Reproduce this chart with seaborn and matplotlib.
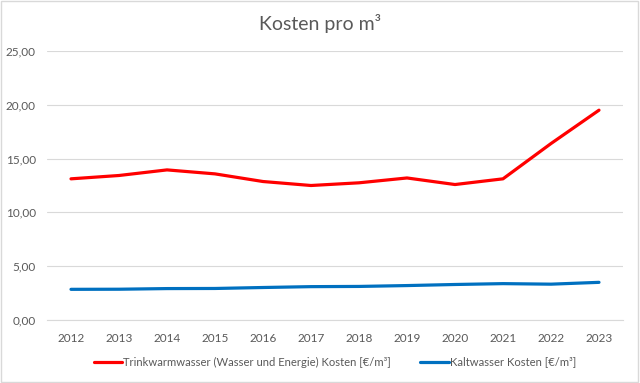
import numpy as np
import pandas as pd
import matplotlib
matplotlib.use("Agg")
import matplotlib.pyplot as plt
import seaborn as sns

sns.set_style("white")
plt.rcParams["font.family"] = ["Lato", "DejaVu Sans"]

# data
years = [2012, 2013, 2014, 2015, 2016, 2017, 2018, 2019, 2020, 2021, 2022, 2023]
warm = [13.12, 13.43, 13.95, 13.58, 12.87, 12.50, 12.75, 13.20, 12.59, 13.12, 16.40, 19.50]
kalt = [2.85, 2.86, 2.92, 2.93, 3.02, 3.10, 3.12, 3.20, 3.30, 3.38, 3.33, 3.50]
labels = ["Trinkwarmwasser (Wasser und Energie) Kosten [€/m³]",
          "Kaltwasser Kosten [€/m³]"]
colors = ["#FF0000", "#0070C0"]

df = pd.DataFrame({
    "Jahr": years * 2,
    "Kosten": warm + kalt,
    "Serie": [labels[0]] * len(years) + [labels[1]] * len(years),
})

fig = plt.figure(figsize=(6.4, 3.83), dpi=100)
ax = fig.add_axes([47 / 640, 1 - 320 / 383, 576 / 640, 269 / 383])

sns.lineplot(data=df, x="Jahr", y="Kosten", hue="Serie", palette=colors,
             linewidth=2.3, ax=ax, legend=True)

ax.set_xlim(2011.5, 2023.5)
ax.set_ylim(0, 25)
ax.set_xticks(years)
ax.set_xticklabels([str(y) for y in years])
ticks = np.arange(0, 26, 5)
ax.set_yticks(ticks)
ax.set_yticklabels([f"{t:.2f}".replace(".", ",") for t in ticks])
ax.tick_params(axis="both", length=0, labelsize=8.5, colors="#595959")
ax.tick_params(axis="x", pad=9)
ax.tick_params(axis="y", pad=8)
ax.grid(axis="y", color="#D9D9D9", linewidth=0.8)
ax.set_axisbelow(True)
for s in ["top", "right", "left"]:
    ax.spines[s].set_visible(False)
ax.spines["bottom"].set_color("#D9D9D9")
ax.set_xlabel("")
ax.set_ylabel("")

fig.text(0.5, 1 - 30 / 383, "Kosten pro m³", ha="center", va="baseline",
         fontsize=14, color="#595959")

leg = ax.legend(loc="center", bbox_to_anchor=(0.5, (320 - 362) / 269),
                ncol=2, frameon=False, fontsize=8.1, handlelength=2.5,
                columnspacing=2.6, handletextpad=0.15)
for t in leg.get_texts():
    t.set_color("#595959")

fig.patches.append(plt.Rectangle((0.002, 0.003), 0.995, 0.994,
                                 transform=fig.transFigure, fill=False,
                                 edgecolor="#D9D9D9", linewidth=1))

fig.savefig("out.png", dpi=100)
